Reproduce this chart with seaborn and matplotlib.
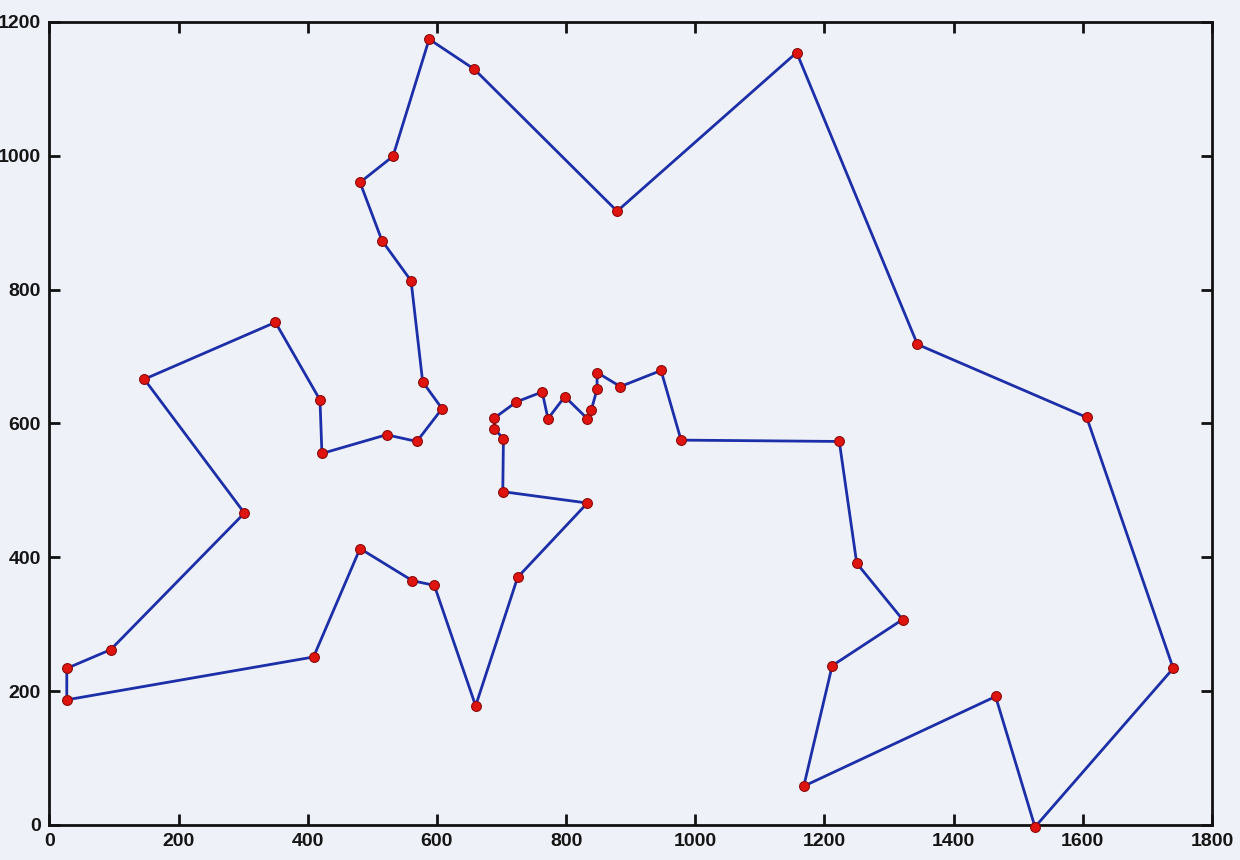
import numpy as np
import pandas as pd
import matplotlib
matplotlib.use("Agg")
import matplotlib.pyplot as plt
import seaborn as sns

# Tour of the cities (visiting order)
city_x = [588, 658, 879, 1157, 1344, 1606, 1740, 1526, 1465, 1168, 1212, 1321,
          1250, 1223, 978, 947, 884, 848, 848, 839, 833, 798, 772, 763, 723,
          689, 689, 703, 702, 833, 725, 660, 596, 562, 481, 409, 27, 27, 95,
          302, 147, 350, 419, 422, 522, 569, 608, 578, 560, 515, 481, 532]
city_y = [1174, 1129, 917, 1154, 718, 609, 234, -3, 192, 58, 238, 307,
          391, 573, 575, 679, 655, 676, 651, 620, 607, 640, 607, 647, 632,
          608, 592, 577, 498, 481, 370, 178, 358, 365, 413, 251, 187, 234, 262,
          466, 666, 751, 635, 555, 583, 573, 622, 662, 813, 873, 960, 999]

x_ticks = [0, 200, 400, 600, 800, 1000, 1200, 1400, 1600, 1800]
y_ticks = [0, 200, 400, 600, 800, 1000, 1200]

bg = "#eff1f8"
sns.set_theme(style="white")
plt.rcParams["font.family"] = ["Liberation Sans", "DejaVu Sans"]

order = list(range(len(city_x))) + [0]
tour = pd.DataFrame({
    "x": [city_x[i] for i in order],
    "y": [city_y[i] for i in order],
    "step": range(len(order)),
})
cities = pd.DataFrame({"x": city_x, "y": city_y})

fig = plt.figure(figsize=(12.4, 8.6), dpi=100, facecolor=bg)
ax = fig.add_axes([0.0398, 0.0407, 0.9376, 0.934])
ax.set_facecolor(bg)

sns.lineplot(data=tour, x="x", y="y", sort=False, estimator=None,
             color="#1c2ea8", linewidth=2.0, ax=ax, zorder=2)
sns.scatterplot(data=cities, x="x", y="y", s=50, color="#e0140f",
                edgecolor="#8a0a0a", linewidth=0.8, ax=ax, zorder=3,
                clip_on=False)

ax.set_xlim(0, 1800)
ax.set_ylim(0, 1200)
ax.set_xticks(x_ticks)
ax.set_yticks(y_ticks)
ax.set_xticklabels([str(v) for v in x_ticks])
ax.set_yticklabels([str(v) for v in y_ticks])
ax.set_xlabel("")
ax.set_ylabel("")
ax.tick_params(direction="in", length=8, width=2, colors="#111111",
               top=True, right=True, bottom=True, left=True,
               labelsize=14, pad=6)
for lab in ax.get_xticklabels() + ax.get_yticklabels():
    lab.set_fontweight("bold")
    lab.set_color("#151515")
for sp in ax.spines.values():
    sp.set_visible(True)
    sp.set_linewidth(2)
    sp.set_color("#111111")
ax.grid(False)

fig.savefig("out.png", dpi=100, facecolor=bg)
